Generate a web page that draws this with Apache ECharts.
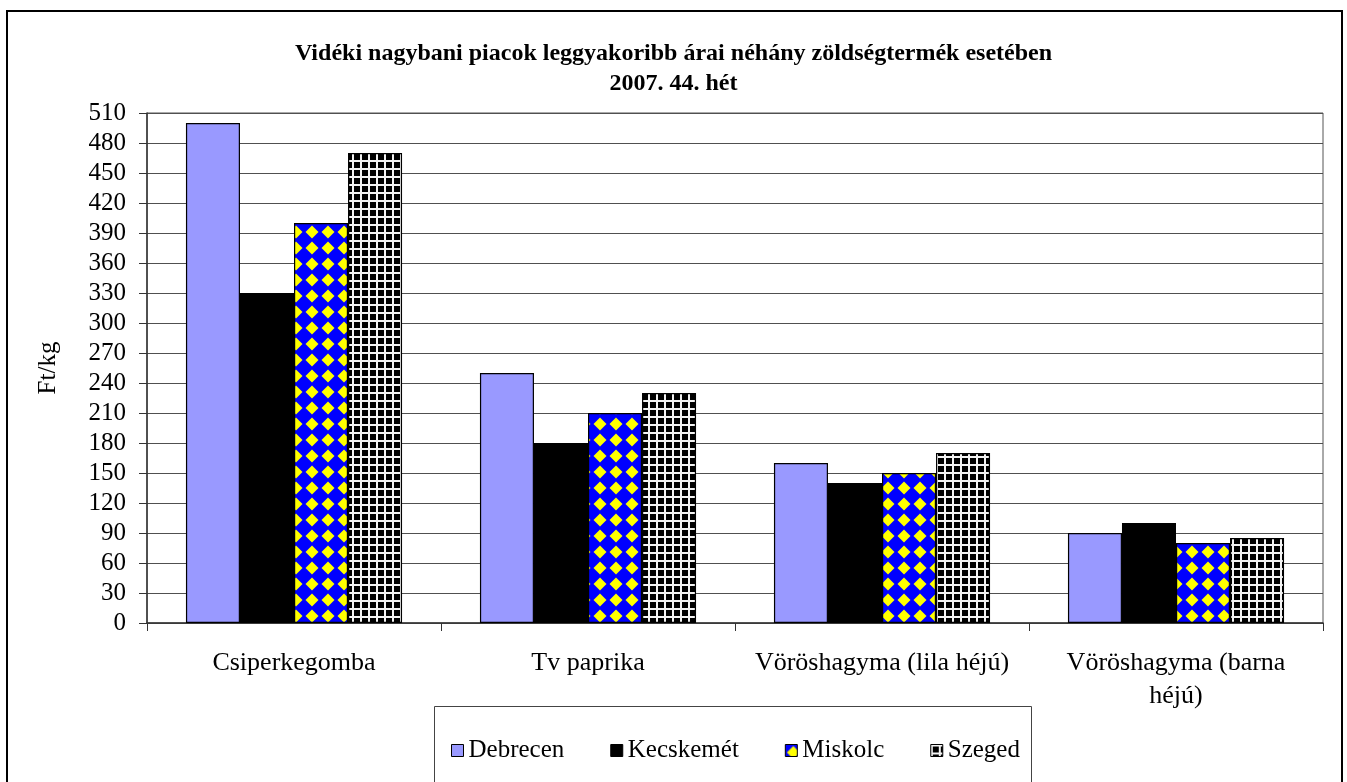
<!DOCTYPE html>
<html>
<head>
<meta charset="utf-8">
<script src="https://cdn.jsdelivr.net/npm/echarts@6/dist/echarts.min.js"></script>
<style>html,body{margin:0;padding:0;background:#fff;}#c{width:1347px;height:782px;}</style>
</head>
<body>
<div id="c"></div>
<script>
const categories = ['Csiperkegomba', 'Tv paprika', 'Vöröshagyma (lila héjú)', 'Vöröshagyma (barna héjú)'];
const seriesNames = ['Debrecen', 'Kecskemét', 'Miskolc', 'Szeged'];
const debrecen = [500, 250, 160, 90];
const kecskemet = [330, 180, 140, 100];
const miskolc = [400, 210, 150, 80];
const szeged = [470, 230, 170, 85];
const titleLines = ['Vidéki nagybani piacok leggyakoribb árai néhány zöldségtermék esetében', '2007. 44. hét'];
const yName = 'Ft/kg';

function diamondTile() {
  const c = document.createElement('canvas');
  c.width = 16; c.height = 16;
  const g = c.getContext('2d');
  g.fillStyle = '#0000FF'; g.fillRect(0, 0, 16, 16);
  g.fillStyle = '#FFFF00';
  g.beginPath();
  g.moveTo(8, 1.5); g.lineTo(14.5, 8); g.lineTo(8, 14.5); g.lineTo(1.5, 8); g.closePath();
  g.fill();
  return c;
}
function gridTile() {
  const c = document.createElement('canvas');
  c.width = 8; c.height = 8;
  const g = c.getContext('2d');
  g.fillStyle = '#000'; g.fillRect(0, 0, 8, 8);
  g.fillStyle = '#f4f4f4';
  g.fillRect(0, 0, 2, 8);
  g.fillRect(0, 0, 8, 2);
  return c;
}

const font = 'Liberation Serif';
const chart = echarts.init(document.getElementById('c'), null, {renderer: 'canvas'});
const colors = [
  '#9999FF',
  '#000000',
  {image: diamondTile(), repeat: 'repeat'},
  {image: gridTile(), repeat: 'repeat'}
];
const dataSets = [debrecen, kecskemet, miskolc, szeged];

chart.setOption({
  animation: false,
  backgroundColor: '#fff',
  title: {
    text: titleLines.join('\n'),
    left: 'center',
    top: 34,
    textStyle: {fontFamily: font, fontWeight: 'bold', fontSize: 24, lineHeight: 30, color: '#000', align: 'center'}
  },
  graphic: [
    {type: 'rect', shape: {x: 7, y: 11, width: 1335, height: 800}, style: {fill: 'none', stroke: '#000', lineWidth: 2}, z: 100},
    {type: 'rect', shape: {x: 434.5, y: 706.5, width: 597, height: 120}, style: {fill: 'none', stroke: '#444', lineWidth: 1}, z: 100}
  ],
  legend: {
    data: seriesNames,
    left: 446,
    top: 733,
    itemWidth: 12,
    itemHeight: 12,
    itemGap: 46,
    icon: 'rect',
    textStyle: {fontFamily: font, fontSize: 25, color: '#000'},
    itemStyle: {borderColor: '#000', borderWidth: 1}
  },
  grid: {
    left: 147, right: 24, top: 113, bottom: 159,
    show: true, borderColor: '#555', borderWidth: 1,
    containLabel: false
  },
  xAxis: {
    type: 'category',
    data: categories,
    axisLine: {lineStyle: {color: '#333', width: 1.5}},
    axisTick: {show: true, length: 8, lineStyle: {color: '#333'}},
    axisLabel: {
      interval: 0,
      margin: 24,
      fontFamily: font, fontSize: 26, lineHeight: 33, color: '#000',
      formatter: v => v === 'Vöröshagyma (barna héjú)' ? 'Vöröshagyma (barna\nhéjú)' : v
    }
  },
  yAxis: {
    type: 'value',
    min: 0, max: 510, interval: 30,
    name: yName,
    nameLocation: 'middle',
    nameGap: 86,
    nameRotate: 90,
    nameTextStyle: {fontFamily: font, fontSize: 25, color: '#000'},
    axisLine: {show: true, lineStyle: {color: '#333', width: 1.5}},
    axisTick: {show: true, length: 8, lineStyle: {color: '#333'}},
    axisLabel: {margin: 21, fontFamily: font, fontSize: 25, color: '#000'},
    splitLine: {show: true, lineStyle: {color: '#505050', width: 1}}
  },
  series: seriesNames.map((name, i) => ({
    name: name,
    type: 'bar',
    data: dataSets[i],
    barGap: '0%',
    barCategoryGap: '26.5%',
    itemStyle: {color: colors[i], borderColor: '#000', borderWidth: 1.2}
  }))
});
</script>
</body>
</html>
